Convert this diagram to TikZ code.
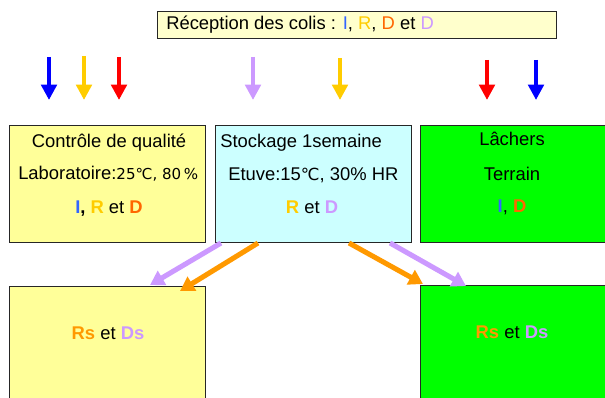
\documentclass[tikz,border=0pt]{standalone}
\usepackage{fontspec}
\setmainfont{Liberation Sans}
\newfontfamily\dvs{DejaVu Sans}
\usetikzlibrary{arrows.meta}
\definecolor{topfill}{HTML}{FFFFCC}
\definecolor{yelfill}{HTML}{FFFF99}
\definecolor{cyanfill}{HTML}{CCFFFF}
\definecolor{grnfill}{HTML}{00FF00}
\definecolor{cblue}{HTML}{0000FF}
\definecolor{cyel}{HTML}{FFCC00}
\definecolor{cred}{HTML}{FF0000}
\definecolor{clav}{HTML}{CC99FF}
\definecolor{corange}{HTML}{FF9900}
\definecolor{tI}{HTML}{3366FF}
\definecolor{tD}{HTML}{FF6600}
\newcommand{\degC}{{\dvs\fontsize{12.5}{14}\selectfont ℃}}
\begin{document}
\begin{tikzpicture}[x=0.75pt,y=-0.75pt,
  box/.style={draw=black!85, line width=0.8pt, rectangle, inner sep=0pt, anchor=north west},
  txt/.style={font=\fontsize{13.8}{16}\selectfont, inner sep=0pt, anchor=base},
  downarr/.style={line width=3.2pt, -{Triangle[width=11.5pt,length=11.5pt]}},
  diagarr/.style={line width=3.8pt, -{Triangle[width=12pt,length=10.5pt]}}]
\useasboundingbox (0,0) rectangle (605,398);
\clip (0,0) rectangle (605,398);
% boxes
\node[box, fill=topfill, minimum width=299.25pt, minimum height=20.25pt] (top) at (157,11) {};
\node[box, fill=yelfill, minimum width=147pt, minimum height=87.75pt] (qc) at (9,125) {};
\node[box, fill=cyanfill, minimum width=147pt, minimum height=87.75pt] (st) at (215,125) {};
\node[box, fill=grnfill, minimum width=150pt, minimum height=87.75pt] (la) at (420,125) {};
\node[box, fill=yelfill, minimum width=147pt, minimum height=95pt] (bl) at (9,286) {};
\node[box, fill=grnfill, minimum width=150pt, minimum height=95pt] (br) at (420,285) {};
% texts
\node[txt, anchor=base west] (ttop) at (166,30) {Réception des colis : \textcolor{tI}{I}, \textcolor{cyel}{R}, \textcolor{tD}{D} et \textcolor{clav}{D}};
\node[txt] (q1) at (109,148) {Contrôle de qualité};
\node[txt, anchor=base west] (q2) at (18,180) {Laboratoire:{\fontsize{11.3}{13}\selectfont\dvs 25℃, 80\,\%}};
\node[txt] (q3) at (109,214) {\bfseries\textcolor{tI}{I}, \textcolor{cyel}{R} \mdseries et \bfseries\textcolor{tD}{D}};
\node[txt, anchor=base west] (s1) at (220,148) {Stockage 1semaine};
\node[txt, anchor=base west] (s2) at (228,181) {Etuve:15\degC, 30\% HR};
\node[txt] (s3) at (312,214) {\textbf{\textcolor{cyel}{R}} et \textbf{\textcolor{clav}{D}}};
\node[txt] (l1) at (512,146) {Lâchers};
\node[txt] (l2) at (512,181) {Terrain};
\node[txt] (l3) at (512,213) {\textbf{\textcolor{tI}{I}}, \textbf{\textcolor{tD}{D}}};
\node[txt] (b1) at (108,339) {\textbf{\textcolor{corange}{Rs}} et \textbf{\textcolor{clav}{Ds}}};
\node[txt] (b2) at (512,338) {\textbf{\textcolor{corange}{Rs}} et \textbf{\textcolor{clav}{Ds}}};
% down arrows
\foreach \n/\x/\y/\c in {a1/49/57/cblue, a2/84/56/cyel, a3/119/57/cred, a4/253/57/clav, a5/340/58/cyel, a6/487/60/cred, a7/536/60/cblue}{
  \coordinate (\n s) at (\x,\y);
  \coordinate (\n e) at (\x,100);
  \draw[downarr, \c] (\n s) -- (\n e);
}
% diagonal arrows
\coordinate (d1s) at (221,243); \coordinate (d1e) at (150,285);
\coordinate (d2s) at (258,243); \coordinate (d2e) at (180,291);
\coordinate (d3s) at (349,243); \coordinate (d3e) at (423,284);
\coordinate (d4s) at (390,243); \coordinate (d4e) at (466,286);
\draw[diagarr, clav] (d1s) -- (d1e);
\draw[diagarr, corange] (d2s) -- (d2e);
\draw[diagarr, corange] (d3s) -- (d3e);
\draw[diagarr, clav] (d4s) -- (d4e);
\end{tikzpicture}
\end{document}
